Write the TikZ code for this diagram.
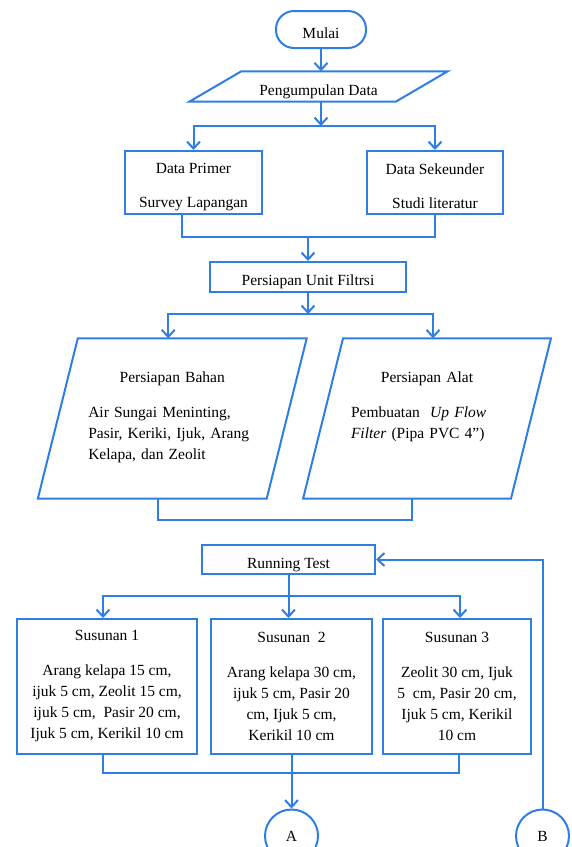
\documentclass[tikz,border=0pt]{standalone}
\usepackage{fontspec}
\setmainfont{Liberation Serif}
\usetikzlibrary{arrows.meta,positioning}
\definecolor{flowblue}{RGB}{46,126,228}

\begin{document}
\begin{tikzpicture}[x=1pt,y=-1pt,
  font=\fontsize{15.5}{21}\selectfont,
  line/.style={draw=flowblue, line width=2pt},
  arrow/.style={line, -{Straight Barb[length=7pt,width=13pt]}},
  box/.style={line, rectangle, align=center, inner sep=0pt},
  oneline/.style={text height=17pt, text depth=0pt},
  para/.style={rectangle, inner sep=0pt},
  conn/.style={line, circle, minimum size=53pt, inner sep=0pt}]
\useasboundingbox (0,0) rectangle (571,847);
\clip (0,0) rectangle (571,847);
%----start and data---------------------------------
\node[box, oneline, rounded corners=18pt, minimum width=90, minimum height=37] (mulai) at (321,29.5) {Mulai};
\node[para, oneline, minimum width=206, minimum height=30] (data) at (318.5,86.5) {Pengumpulan Data};
\draw[line] ([xshift=26]data.north west) -- ([xshift=26]data.north east)
    -- ([xshift=-26]data.south east) -- ([xshift=-26]data.south west) -- cycle;
\draw[arrow] (mulai.south) -- (mulai.south |- data.north);
%----primer / sekunder------------------------------
\node[box, minimum width=137, minimum height=63] (primer) at (193.5,182.5) {\rule{0pt}{18.6pt}Data Primer\\[13pt]Survey Lapangan};
\node[box, minimum width=136, minimum height=63] (sekunder) at (435,182.5) {\rule{0pt}{18.6pt}Data Sekeunder\\[13pt]Studi literatur};
\coordinate (s1) at (321,126);
\draw[arrow] (mulai.south |- data.south) -- (s1);
\draw[arrow] (s1) -| (primer.north);
\draw[arrow] (s1) -| (sekunder.north);
%----unit filtrasi----------------------------------
\node[box, oneline, minimum width=196, minimum height=30] (unit) at (308,277) {Persiapan Unit Filtrsi};
\coordinate (j1) at (308,237);
\draw[line] ([xshift=-12]primer.south) |- (j1) -| (sekunder.south);
\draw[arrow] (j1) -- (unit.north);
%----bahan dan alat---------------------------------
\node[para, minimum width=228.5, minimum height=160] (bahan) at (172.25,418.5) {};
\draw[line] ([xshift=20]bahan.north west) -- ([xshift=20]bahan.north east)
    -- ([xshift=-20]bahan.south east) -- ([xshift=-20]bahan.south west) -- cycle;
\node[anchor=north, text width=168, align=left, inner sep=0pt] (bahantxt) at ([yshift=-33]bahan.north)
    {{\centering Persiapan Bahan\par}\vspace{14pt}Air Sungai Meninting,\\Pasir, Keriki, Ijuk, Arang\\Kelapa, dan Zeolit};
\node[para, minimum width=207.5, minimum height=160] (alat) at (427,418.5) {};
\draw[line] ([xshift=20]alat.north west) -- ([xshift=20]alat.north east)
    -- ([xshift=-20]alat.south east) -- ([xshift=-20]alat.south west) -- cycle;
\node[anchor=north, text width=152, align=left, inner sep=0pt] (alattxt) at ([yshift=-33]alat.north)
    {{\centering Persiapan Alat\par}\vspace{14pt}Pembuatan\ \ \textit{Up Flow}\\\textit{Filter} (Pipa PVC 4”)};
\coordinate (s2) at (308,314);
\draw[arrow] (unit.south) -- (s2);
\draw[arrow] (s2) -| ([xshift=-4]bahan.north);
\draw[arrow] (s2) -| ([xshift=6]alat.north);
\coordinate (j2) at (285,520);
\draw[line] ([xshift=-14]bahan.south) |- (j2) -| ([xshift=-15]alat.south);
%----running test-----------------------------------
\node[box, oneline, minimum width=173, minimum height=29] (run) at (288.5,559.5) {Running Test};
\node[box, minimum width=180, minimum height=135] (sus1) at (107,686.5)
    {Susunan 1\\[14pt]Arang kelapa 15 cm,\\ijuk 5 cm, Zeolit 15 cm,\\ijuk 5 cm,\ \ Pasir 20 cm,\\Ijuk 5 cm, Kerikil 10 cm};
\node[box, minimum width=161, minimum height=135] (sus2) at (291.5,686.5)
    {Susunan\ \ 2\\[14pt]Arang kelapa 30 cm,\\ijuk 5 cm, Pasir 20\\cm, Ijuk 5 cm,\\Kerikil 10 cm};
\node[box, minimum width=148, minimum height=135] (sus3) at (457,686.5)
    {Susunan 3\\[14pt]Zeolit 30 cm, Ijuk\\5\ \ cm, Pasir 20 cm,\\Ijuk 5 cm, Kerikil\\10 cm};
\coordinate (s3) at (288.5,596);
\draw[line] (run.south) -- (s3);
\draw[arrow] (s3) -| ([xshift=-4]sus1.north);
\draw[arrow] (s3) -- (s3 |- sus2.north);
\draw[arrow] (s3) -| ([xshift=3]sus3.north);
%----connectors A and B-----------------------------
\node[conn] (A) at (291.5,836) {A};
\node[conn] (B) at (542.5,836) {B};
\coordinate (j3) at (291.5,773);
\draw[line] ([xshift=-4]sus1.south) |- (j3) -| ([xshift=2]sus3.south);
\draw[arrow] (sus2.south) -- (A.north);
\draw[arrow] (B.north) |- (run.east);
\end{tikzpicture}
\end{document}
